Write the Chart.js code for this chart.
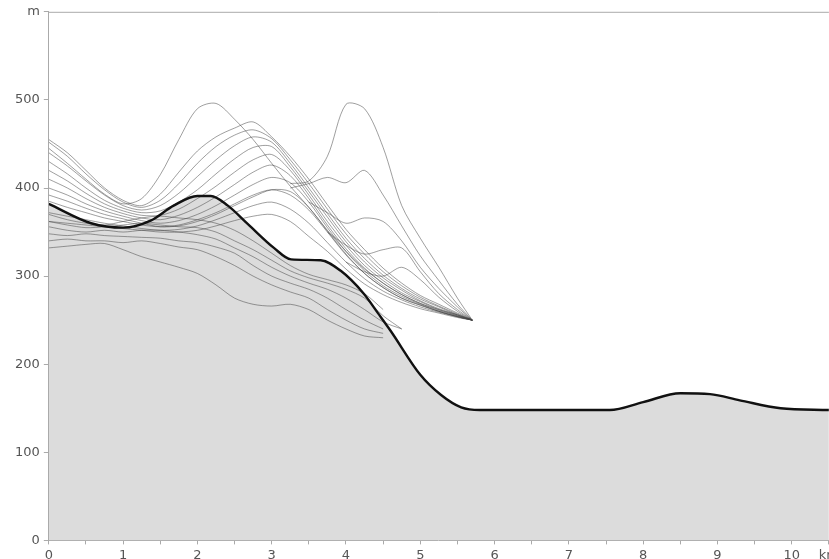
<!DOCTYPE html>
<html>
<head>
<meta charset="utf-8">
<script src="https://cdn.jsdelivr.net/npm/chart.js@4.4.1/dist/chart.umd.min.js"></script>
<style>
  html, body { margin: 0; padding: 0; background: #fff; overflow: hidden; }
  #clip { width: 829px; height: 559px; overflow: hidden; }
  #box { width: 842px; height: 566px; }
</style>
</head>
<body>
<div id="clip"><div id="box"><canvas id="profil"></canvas></div></div>
<script>
// Gelände (dicke Linie + graue Fläche)
const terrainKm = [0, 0.57, 1.0, 1.37, 1.68, 2.0, 2.18, 2.41, 2.68, 3.03, 3.26, 3.66, 3.93, 4.24, 4.43, 4.6, 5.0, 5.28, 5.55, 5.8, 7.55, 8.0, 8.5, 8.9, 9.3, 9.85, 10.5];
const terrainM = [382, 360, 355, 363, 380, 391, 391, 380, 359, 332, 319, 318, 306, 280, 258, 238, 188, 165, 151, 148, 148, 157, 167, 166, 159, 150, 148];

// gemeinsames km-Raster für die dünnen Linien
const km = [0, 0.25, 0.5, 0.75, 1, 1.25, 1.5, 1.75, 2, 2.25, 2.5, 2.75, 3, 3.25, 3.5, 3.75, 4, 4.25, 4.5, 4.75, 5, 5.25, 5.5, 5.7];

// obere Schar, läuft in der Spitze zusammen
const a1 = [445, 428, 410, 393, 382, 388, 415, 455, 490, 496, 478, 455, 428, 402, 378, 352, 328, 308, 292, 279, 269, 262, 256, 250];
const a2 = [455, 440, 420, 400, 386, 380, 393, 418, 442, 458, 468, 475, 458, 436, 410, 381, 353, 330, 309, 292, 278, 268, 258, 250];
const a3 = [452, 436, 416, 398, 384, 378, 386, 405, 428, 447, 460, 466, 456, 432, 405, 376, 348, 325, 305, 289, 276, 266, 257, 250];
const a4 = [440, 425, 408, 392, 380, 375, 380, 394, 413, 432, 448, 458, 452, 428, 400, 371, 343, 320, 301, 286, 274, 265, 256, 250];
const a5 = [430, 416, 400, 386, 377, 372, 374, 384, 398, 416, 433, 446, 447, 424, 396, 367, 339, 316, 298, 284, 272, 263, 256, 250];
const a6 = [420, 408, 394, 382, 374, 369, 369, 376, 388, 402, 418, 432, 438, 420, 392, 362, 335, 312, 295, 281, 271, 262, 255, 250];
const a7 = [410, 400, 388, 378, 371, 366, 364, 369, 378, 390, 404, 418, 426, 414, 388, 358, 331, 309, 292, 279, 269, 261, 255, 250];
const a8 = [400, 392, 382, 374, 368, 363, 360, 363, 370, 380, 392, 404, 412, 406, 384, 355, 328, 306, 289, 277, 268, 260, 254, 250];
const a9 = [392, 385, 377, 370, 365, 360, 356, 357, 362, 370, 380, 390, 398, 396, 378, 351, 325, 303, 287, 275, 267, 260, 254, 250];
const a10 = [385, 378, 372, 366, 362, 358, 356, 358, 364, 372, 382, 392, 398, 392, 375, 350, 324, 303, 287, 275, 267, 260, 254, 250];
const a11 = [372, 368, 364, 360, 357, 354, 352, 353, 357, 364, 372, 380, 384, 376, 360, 338, 316, 297, 283, 273, 265, 259, 254, 250];
const a12 = [362, 360, 358, 356, 354, 352, 350, 350, 352, 357, 363, 368, 370, 362, 345, 328, 308, 291, 279, 270, 263, 258, 253, 250];

// Abzweigungen mit zweitem Gipfel
const b1 = [null, null, null, null, null, null, null, null, null, null, null, null, null, 405, 408, 436, 495, 490, 446, 380, 343, 310, 275, 250];
const b2 = [null, null, null, null, null, null, null, null, null, null, null, null, null, 400, 405, 412, 406, 420, 392, 357, 323, 295, 268, 250];
const b3 = [null, null, null, null, null, null, null, null, null, null, null, null, null, null, 384, 372, 360, 366, 362, 340, 310, 286, 265, 250];
const b4 = [null, null, null, null, null, null, null, null, null, null, null, null, null, null, null, 350, 335, 325, 330, 332, 305, 280, 262, 250];
const b5 = [null, null, null, null, null, null, null, null, null, null, null, null, null, null, null, null, 316, 305, 300, 310, 296, 276, 260, 250];

// untere Linien in der grauen Fläche
const c1 = [332, 334, 336, 337, 330, 322, 316, 310, 303, 290, 275, 268, 266, 268, 262, 250, 240, 232, 230, null, null, null, null, null];
const c2 = [340, 342, 340, 340, 338, 340, 337, 333, 330, 322, 312, 300, 290, 282, 275, 262, 250, 240, 235, null, null, null, null, null];
const c3 = [348, 346, 348, 346, 345, 344, 343, 340, 338, 333, 326, 312, 300, 292, 285, 275, 262, 250, 240, null, null, null, null, null];
const c4 = [356, 352, 350, 352, 350, 352, 352, 350, 347, 342, 332, 322, 310, 300, 292, 285, 275, 262, 248, 240, null, null, null, null];
const c5 = [362, 358, 355, 356, 358, 360, 358, 356, 355, 350, 340, 330, 318, 306, 298, 292, 285, 275, 255, 240, null, null, null, null];
const c6 = [370, 364, 360, 358, 362, 366, 368, 366, 364, 360, 352, 340, 326, 312, 302, 296, 290, 280, 262, null, null, null, null, null];

const duenn = [a1, a2, a3, a4, a5, a6, a7, a8, a9, a10, a11, a12, b1, b2, b3, b4, b5, c1, c2, c3, c4, c5, c6];

const terrainPts = terrainKm.map((x, i) => ({ x: x, y: terrainM[i] }));

const datasets = [];
// Fläche zuerst (ganz unten)
datasets.push({
    data: terrainPts,
    borderWidth: 0,
    borderColor: 'rgba(0,0,0,0)',
    backgroundColor: '#dcdcdc',
    fill: 'origin',
    cubicInterpolationMode: 'monotone',
    pointRadius: 0,
    order: 10
});
duenn.forEach(werte => {
    const pts = [];
    km.forEach((x, i) => { if (werte[i] !== null) pts.push({ x: x, y: werte[i] }); });
    datasets.push({
        data: pts,
        borderColor: 'rgba(70,70,70,0.65)',
        borderWidth: 0.8,
        tension: 0.3,
        fill: false,
        pointRadius: 0,
        order: 5
    });
});
// dicke Geländelinie oben drauf
datasets.push({
    data: terrainPts,
    borderColor: '#111',
    borderWidth: 2.4,
    fill: false,
    cubicInterpolationMode: 'monotone',
    pointRadius: 0,
    order: 0
});

// obere Rahmenlinie
const rahmen = {
    id: 'rahmen',
    afterDraw(chart) {
        const { ctx, chartArea } = chart;
        ctx.save();
        ctx.strokeStyle = '#aaa';
        ctx.lineWidth = 1;
        ctx.beginPath();
        ctx.moveTo(chartArea.left, chartArea.top + 0.5);
        ctx.lineTo(chartArea.right, chartArea.top + 0.5);
        ctx.stroke();
        ctx.restore();
    }
};

const achsenFont = { family: 'DejaVu Sans', size: 13 };

new Chart(document.getElementById('profil'), {
    type: 'line',
    data: { datasets: datasets },
    options: {
        responsive: true,
        maintainAspectRatio: false,
        animation: false,
        layout: { padding: { left: 11, top: 4, right: 0, bottom: 0 } },
        plugins: { legend: { display: false }, tooltip: { enabled: false } },
        scales: {
            x: {
                type: 'linear',
                min: 0,
                max: 10.5,
                grid: { drawOnChartArea: false, tickLength: 4, color: '#aaa' },
                border: { color: '#aaa' },
                ticks: {
                    stepSize: 0.5,
                    autoSkip: false,
                    maxRotation: 0,
                    padding: 3,
                    color: '#555',
                    font: achsenFont,
                    callback: v => v === 10.5 ? 'km' : (Number.isInteger(v) ? String(v) : '')
                }
            },
            y: {
                min: 0,
                max: 600,
                grid: { drawOnChartArea: false, tickLength: 5, color: '#aaa' },
                border: { color: '#aaa' },
                ticks: {
                    stepSize: 100,
                    padding: 4,
                    color: '#555',
                    font: achsenFont,
                    callback: v => v === 600 ? 'm' : String(v)
                }
            }
        }
    },
    plugins: [rahmen]
});
</script>
</body>
</html>
